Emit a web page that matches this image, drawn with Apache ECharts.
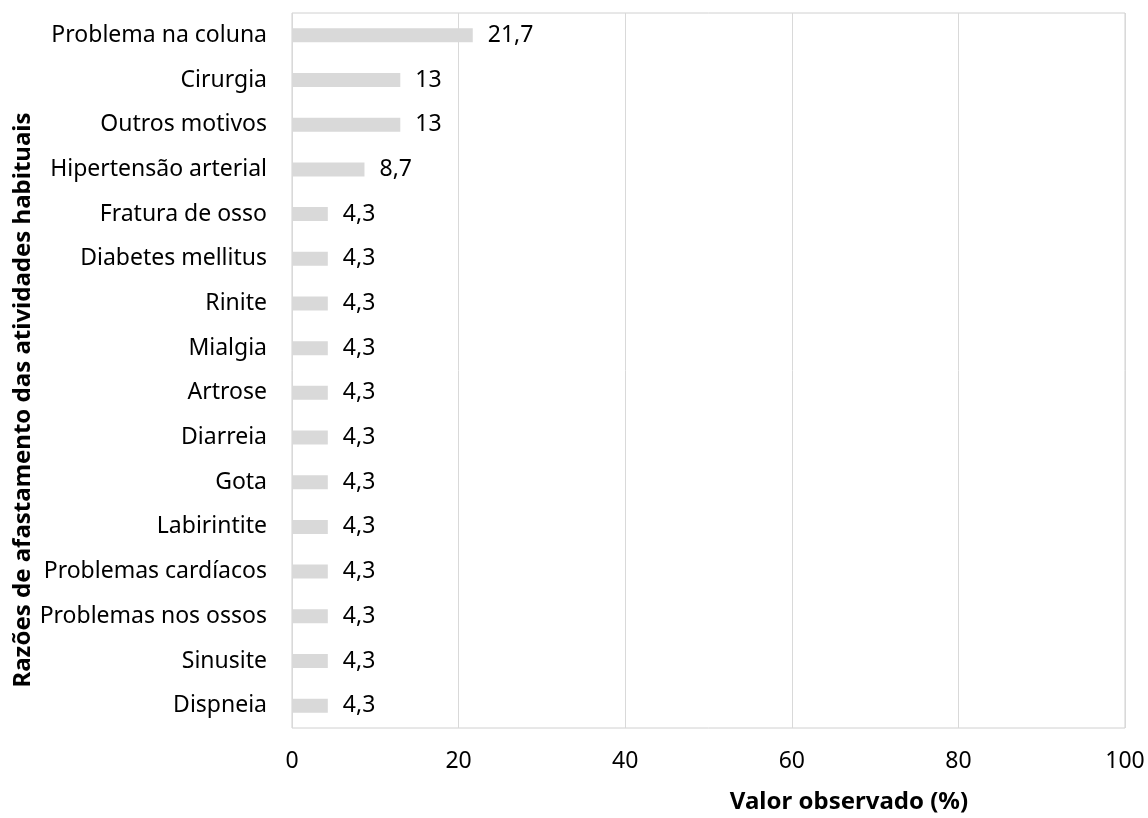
<!DOCTYPE html>
<html>
<head>
<meta charset="utf-8">
<script src="https://cdn.jsdelivr.net/npm/echarts@6/dist/echarts.min.js"></script>
<style>
html, body { margin: 0; padding: 0; background: #fff; }
#main { width: 1148px; height: 818px; }
</style>
</head>
<body>
<div id="main"></div>
<script>
var categories = ['Problema na coluna', 'Cirurgia', 'Outros motivos', 'Hipertensão arterial',
	'Fratura de osso', 'Diabetes mellitus', 'Rinite', 'Mialgia', 'Artrose', 'Diarreia',
	'Gota', 'Labirintite', 'Problemas cardíacos', 'Problemas nos ossos', 'Sinusite', 'Dispneia'];
var values = [21.7, 13, 13, 8.7, 4.3, 4.3, 4.3, 4.3, 4.3, 4.3, 4.3, 4.3, 4.3, 4.3, 4.3, 4.3];
var xTicks = [0, 20, 40, 60, 80, 100];

var font = 'Noto Sans';

var chart = echarts.init(document.getElementById('main'));

var option = {
	animation: false,
	textStyle: { fontFamily: font },
	grid: {
		left: 292,
		right: 23,
		top: 13,
		bottom: 90,
		show: true,
		borderColor: '#d0d0d0',
		borderWidth: 1
	},
	xAxis: {
		type: 'value',
		min: xTicks[0],
		max: xTicks[xTicks.length - 1],
		interval: 20,
		axisLine: { show: false },
		axisTick: { show: false },
		axisLabel: { color: '#000', fontSize: 23, margin: 22, fontFamily: font },
		splitLine: { lineStyle: { color: '#d9d9d9', width: 1 } }
	},
	yAxis: {
		type: 'category',
		inverse: true,
		data: categories,
		axisLine: { show: false },
		axisTick: { show: false },
		axisLabel: { color: '#000', fontSize: 23, margin: 25, fontFamily: font },
		splitLine: { show: false }
	},
	graphic: [{
		type: 'text',
		x: 23,
		y: 400,
		rotation: Math.PI / 2,
		style: {
			text: 'Razões de afastamento das atividades habituais',
			font: 'bold 24px "' + font + '"',
			fill: '#000',
			align: 'center',
			verticalAlign: 'middle'
		}
	}, {
		type: 'text',
		x: 849,
		y: 802,
		style: {
			text: 'Valor observado (%)',
			font: 'bold 24px "' + font + '"',
			fill: '#000',
			align: 'center',
			verticalAlign: 'middle'
		}
	}],
	series: [{
		type: 'bar',
		data: values,
		barWidth: 14,
		itemStyle: { color: '#d9d9d9' },
		label: {
			show: true,
			position: 'right',
			distance: 15,
			color: '#000',
			fontSize: 23,
			fontFamily: font,
			formatter: function(p) {
				return String(p.value).replace('.', ',');
			}
		}
	}]
};

chart.setOption(option);
</script>
</body>
</html>
